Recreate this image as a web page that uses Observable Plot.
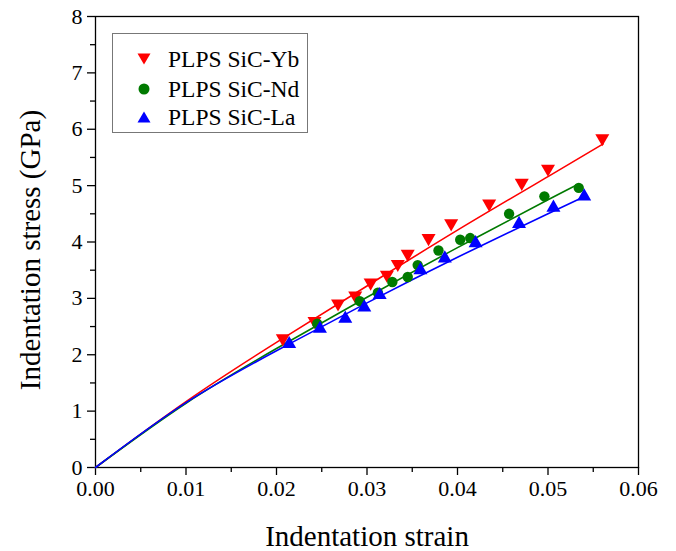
<!DOCTYPE html>
<html>
<head>
<meta charset="utf-8">
<script src="https://cdn.jsdelivr.net/npm/d3@7"></script>
<script src="https://cdn.jsdelivr.net/npm/@observablehq/plot@0.6"></script>
<style>
  html, body { margin: 0; padding: 0; background: white; }
  #wrap { position: relative; width: 676px; height: 551px; }
  #legend { position: absolute; left: 112px; top: 33px; width: 196px; height: 100px; border: 1.3px solid #777; background: white; box-sizing: border-box; }
  .row { position: absolute; left: 0; height: 30px; display: flex; align-items: center; font-size: 23.5px; color: #000; white-space: nowrap; }
  .row svg { margin-left: 24px; margin-right: 17px; }
</style>
</head>
<body>
<div id="wrap"></div>
<script>
// ---- data ----
const seriesNames = ["PLPS SiC-Yb", "PLPS SiC-Nd", "PLPS SiC-La"];
const seriesColors = ["#ff0000", "#007a00", "#0000ff"];

const strainYb = [0.0207, 0.0242, 0.0268, 0.0287, 0.0304, 0.0322, 0.0334, 0.0345, 0.0368, 0.0393, 0.0435, 0.0471, 0.0500, 0.0560];
const stressYb = [2.29, 2.60, 2.91, 3.05, 3.28, 3.42, 3.61, 3.79, 4.07, 4.33, 4.68, 5.05, 5.30, 5.84];

const strainNd = [0.0245, 0.0292, 0.0312, 0.0328, 0.0345, 0.0356, 0.0379, 0.0403, 0.0414, 0.0457, 0.0496, 0.0534];
const stressNd = [2.55, 2.95, 3.10, 3.29, 3.38, 3.59, 3.85, 4.04, 4.07, 4.50, 4.81, 4.96];

const strainLa = [0.0214, 0.0248, 0.0276, 0.0297, 0.0314, 0.0359, 0.0386, 0.0420, 0.0468, 0.0506, 0.0540];
const stressLa = [2.19, 2.46, 2.64, 2.84, 3.06, 3.50, 3.71, 3.98, 4.32, 4.61, 4.81];

// fitted curves
const fitStrainYb = [0, 0.01, 0.02, 0.03, 0.04, 0.05, 0.0561];
const fitStressYb = [0, 1.17, 2.22, 3.22, 4.21, 5.16, 5.74];
const fitStrainNd = [0, 0.01, 0.02, 0.03, 0.04, 0.05, 0.0534];
const fitStressNd = [0, 1.14, 2.11, 3.02, 3.90, 4.75, 5.03];
const fitStrainLa = [0, 0.01, 0.02, 0.03, 0.04, 0.05, 0.0541];
const fitStressLa = [0, 1.15, 2.07, 2.92, 3.73, 4.50, 4.81];

const xMajorTicks = [0, 0.01, 0.02, 0.03, 0.04, 0.05, 0.06];
const xMinorTicks = [0.005, 0.015, 0.025, 0.035, 0.045, 0.055];
const yMajorTicks = [0, 1, 2, 3, 4, 5, 6, 7, 8];
const yMinorTicks = [0.5, 1.5, 2.5, 3.5, 4.5, 5.5, 6.5, 7.5];
const xLabel = "Indentation strain";
const yLabel = "Indentation stress (GPa)";

// ---- build tables ----
const toRows = (xs, ys, s) => xs.map((x, i) => ({strain: x, stress: ys[i], series: s}));
const pts = [
  ...toRows(strainYb, stressYb, seriesNames[0]),
  ...toRows(strainNd, stressNd, seriesNames[1]),
  ...toRows(strainLa, stressLa, seriesNames[2])
];
const fits = [
  ...toRows(fitStrainYb, fitStressYb, seriesNames[0]),
  ...toRows(fitStrainNd, fitStressNd, seriesNames[1]),
  ...toRows(fitStrainLa, fitStressLa, seriesNames[2])
];
const colorOf = s => seriesColors[seriesNames.indexOf(s)];
const FONT = "\"Liberation Serif\", \"Times New Roman\", serif";

const chart = Plot.plot({
  width: 676,
  height: 551,
  marginLeft: 95,
  marginRight: 38,
  marginTop: 16,
  marginBottom: 84,
  style: {fontSize: "22px", background: "white", color: "black"},
  x: {domain: [0, 0.06]},
  y: {domain: [0, 8]},
  marks: [
    Plot.frame({stroke: "black", strokeWidth: 1.3}),
    Plot.axisX({ticks: xMajorTicks, tickSize: 8, tickPadding: 5, tickFormat: d3.format(".2f"), label: null, fontSize: 22, strokeWidth: 1.3}),
    Plot.axisX({ticks: xMinorTicks, tickSize: 5, tickFormat: () => "", label: null, strokeWidth: 1.3}),
    Plot.axisY({ticks: yMajorTicks, tickSize: 8, tickPadding: 5, tickFormat: d3.format("d"), label: null, fontSize: 22, strokeWidth: 1.3}),
    Plot.axisY({ticks: yMinorTicks, tickSize: 5, tickFormat: () => "", label: null, strokeWidth: 1.3}),
    Plot.line(fits, {x: "strain", y: "stress", z: "series", stroke: d => colorOf(d.series), strokeWidth: 1.6, curve: "natural"}),
    Plot.dot(pts.filter(d => d.series === seriesNames[0]), {x: "strain", y: "stress", symbol: "triangle", rotate: 180, r: 5.2, fill: seriesColors[0], stroke: "none"}),
    Plot.dot(pts.filter(d => d.series === seriesNames[1]), {x: "strain", y: "stress", symbol: "circle", r: 5.2, fill: seriesColors[1], stroke: "none"}),
    Plot.dot(pts.filter(d => d.series === seriesNames[2]), {x: "strain", y: "stress", symbol: "triangle", r: 5.2, fill: seriesColors[2], stroke: "none"}),
    Plot.text([xLabel], {frameAnchor: "bottom", textAnchor: "middle", lineAnchor: "middle", dy: 69, fontSize: 29, text: d => d}),
    Plot.text([yLabel], {frameAnchor: "left", textAnchor: "middle", lineAnchor: "middle", dx: -65, dy: 8, rotate: -90, fontSize: 29, text: d => d})
  ]
});

chart.style.fontFamily = FONT;
chart.querySelectorAll("text").forEach(t => t.style.fontFamily = FONT);

const wrap = document.getElementById("wrap");
wrap.style.fontFamily = FONT;
wrap.appendChild(chart);

// legend overlay inside the plot frame
const legend = document.createElement("div");
legend.id = "legend";
const rowTops = [10, 40, 68];
seriesNames.forEach((name, i) => {
  const row = document.createElement("div");
  row.className = "row";
  row.style.top = rowTops[i] + "px";
  row.style.fontFamily = FONT;
  const sym = i === 0
    ? `<svg width="14" height="14"><polygon points="0.5,1.5 13.5,1.5 7,12.5" fill="${seriesColors[i]}"/></svg>`
    : i === 1
      ? `<svg width="14" height="14"><circle cx="7" cy="7" r="5.5" fill="${seriesColors[i]}"/></svg>`
      : `<svg width="14" height="14"><polygon points="0.5,12.5 13.5,12.5 7,1.5" fill="${seriesColors[i]}"/></svg>`;
  row.innerHTML = sym + `<span>${name}</span>`;
  legend.appendChild(row);
});
wrap.appendChild(legend);
</script>
</body>
</html>
